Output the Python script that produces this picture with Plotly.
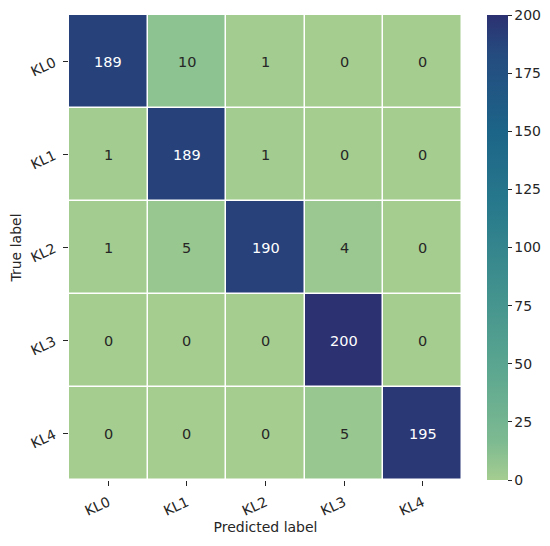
import plotly.graph_objects as go

labels = ["KL0", "KL1", "KL2", "KL3", "KL4"]
matrix = [
    [189, 10, 1, 0, 0],
    [1, 189, 1, 0, 0],
    [1, 5, 190, 4, 0],
    [0, 0, 0, 200, 0],
    [0, 0, 0, 5, 195],
]
cbar_ticks = [0, 25, 50, 75, 100, 125, 150, 175, 200]

crest = [
    [0.0, "#a5cd90"],
    [1/12, "#7dba91"],
    [3/12, "#59a590"],
    [5/12, "#40908e"],
    [7/12, "#287a8c"],
    [9/12, "#1c6488"],
    [11/12, "#254b7f"],
    [1.0, "#2c3172"],
]

FONT = "DejaVu Sans, sans-serif"
DARK = "#262626"

fig = go.Figure(go.Heatmap(
    z=matrix, x=labels, y=labels,
    colorscale=crest, zmin=0, zmax=200,
    xgap=1.5, ygap=1.5,
    colorbar=dict(
        x=1.0636, xanchor="left", y=0.5, yanchor="middle", len=1, lenmode="fraction",
        thickness=21, outlinewidth=0, xpad=0, ypad=0,
        tickvals=cbar_ticks, ticks="outside", ticklen=4, tickwidth=1, tickcolor=DARK,
        ticklabeloverflow="allow",
        tickfont=dict(family=FONT, size=14, color=DARK),
    ),
    hoverinfo="skip",
))

ann = []
for i, row in enumerate(matrix):
    for j, v in enumerate(row):
        ann.append(dict(
            x=labels[j], y=labels[i], text=str(v), showarrow=False,
            font=dict(family=FONT, size=14.5, color="white" if v > 100 else DARK),
        ))

fig.update_layout(
    width=542, height=538,
    margin=dict(l=61, r=88, t=7, b=66, autoexpand=False),
    paper_bgcolor="white", plot_bgcolor="white",
    annotations=ann,
    xaxis=dict(
        title=dict(text="Predicted label", font=dict(family=FONT, size=14, color=DARK), standoff=4),
        tickangle=-25, ticks="outside", ticklen=5, tickcolor=DARK, ticklabelstandoff=3,
        tickfont=dict(family=FONT, size=14, color=DARK),
        showgrid=False, zeroline=False, showline=False,
    ),
    yaxis=dict(
        title=dict(text="True label", font=dict(family=FONT, size=14, color=DARK), standoff=6),
        autorange="reversed", tickangle=-25, ticks="outside", ticklen=5, tickcolor=DARK,
        ticklabelstandoff=6,
        tickfont=dict(family=FONT, size=14, color=DARK),
        showgrid=False, zeroline=False, showline=False,
    ),
)

fig.write_html("out.html")
